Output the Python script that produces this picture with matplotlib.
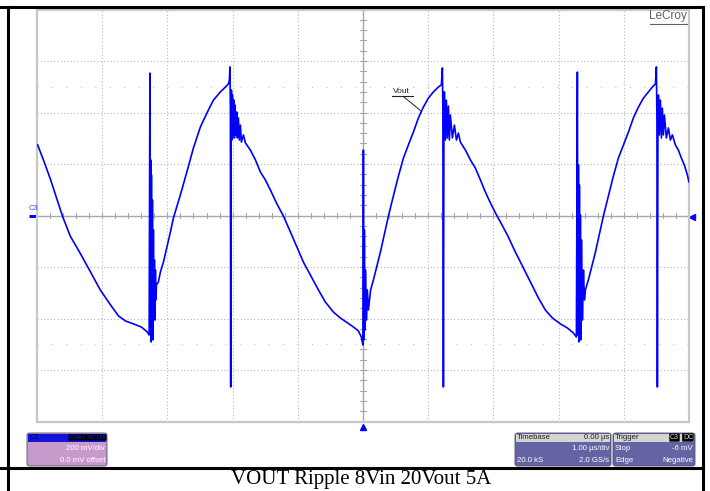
import matplotlib
matplotlib.use('Agg')
import numpy as np
import matplotlib.pyplot as plt
from matplotlib.patches import Rectangle, FancyBboxPatch
from matplotlib.lines import Line2D

# scope trace: time in us (1 us/div), voltage in mV (200 mV/div)
t_us = [
    -4.99, -4.89, -4.79, -4.70, -4.61, -4.49, -4.33, -4.18, -4.03, -3.87, -3.75, -3.64, -3.52, -3.40, -3.31, -3.28,
    # switching event near trough
    -3.268, -3.261, -3.256, -3.250, -3.245, -3.238, -3.230, -3.222, -3.215, -3.207, -3.199, -3.192, -3.184, -3.176, -3.169,
    -3.138, -3.107, -3.061, -3.000, -2.954, -2.908, -2.801, -2.693, -2.601, -2.494, -2.386, -2.294, -2.187, -2.110, -2.064,
    # switching event near peak
    -2.049, -2.041, -2.034, -2.029, -2.024, -2.018, -2.011, -2.003, -1.992, -1.983, -1.972, -1.962, -1.949, -1.937, -1.926,
    -1.911, -1.896, -1.880, -1.865, -1.834, -1.804,
    -1.727, -1.650, -1.574, -1.497, -1.420, -1.328, -1.221, -1.113, -1.021, -0.914, -0.807, -0.684, -0.577, -0.454, -0.347,
    -0.239, -0.147, -0.071, -0.025,
    -0.002, 0.006, 0.014, 0.021, 0.029, 0.037, 0.052, 0.067, 0.083, 0.117,
    0.160, 0.206, 0.267, 0.328, 0.390, 0.466, 0.543, 0.620, 0.696, 0.773, 0.850, 0.926, 1.003, 1.080, 1.156, 1.202,
    1.218, 1.225, 1.233, 1.241, 1.248, 1.264, 1.279, 1.294, 1.310, 1.325, 1.340, 1.371, 1.402, 1.433, 1.463, 1.494,
    1.571, 1.647, 1.724, 1.801, 1.877, 1.954, 2.031, 2.107, 2.215, 2.337, 2.445, 2.567, 2.690, 2.797, 2.905, 3.028,
    3.135, 3.227, 3.273,
    3.288, 3.296, 3.304, 3.311, 3.319, 3.327, 3.334, 3.342, 3.350, 3.365, 3.381, 3.396, 3.411,
    3.457, 3.503, 3.565, 3.626, 3.687, 3.764, 3.840, 3.917, 3.994, 4.071, 4.147, 4.224, 4.301, 4.377, 4.439, 4.485,
    4.500, 4.508, 4.515, 4.523, 4.531, 4.546, 4.561, 4.577, 4.592, 4.607, 4.623, 4.653, 4.684, 4.715, 4.745,
    4.791, 4.837, 4.883, 4.929, 4.975, 5.00,
]
v_mv = [
    274, 208, 138, 68, -2, -80, -150, -219, -289, -348, -390, -410, -421, -433, -452, -464,
    553, -445, 216, -491, 157, -445, 60, -483, -56, -386, -173, -406, -212, -328, -270,
    -258, -219, -181, -115, -64, -10, 80, 177, 262, 344, 402, 448, 480, 499, 511,
    526, 577, 410, -666, 332, 487, 293, 468, 313, 448, 301, 429, 313, 402, 301,
    379, 293, 351, 285, 313, 282,
    254, 216, 169, 138, 99, 49, -2, -64, -118, -181, -231, -289, -336, -375, -398,
    -417, -433, -448, -472,
    -503, 254, -483, -56, -445, -212, -406, -289, -367, -289,
    -250, -204, -142, -72, -2, 76, 153, 223, 274, 324, 379, 421, 456, 480, 499, 507,
    573, 410, -666, 332, 480, 293, 448, 301, 425, 293, 390, 301, 351, 293, 320, 285,
    254, 216, 184, 138, 91, 49, 10, -25, -76, -142, -196, -258, -320, -367, -398, -421,
    -437, -456, -472,
    557, -464, 196, -491, 118, -464, 2, -483, -95, -406, -212, -328, -289,
    -250, -204, -142, -72, -2, 76, 153, 223, 274, 324, 379, 421, 456, 480, 499, 511,
    577, 371, -666, 293, 468, 313, 448, 301, 417, 313, 390, 301, 340, 293, 313,
    274, 254, 223, 196, 157, 130,
]

trig_level_mv = -6
caption = 'VOUT Ripple 8Vin 20Vout 5A'

W, H = 710, 491
fig = plt.figure(figsize=(W / 100, H / 100), dpi=100)
fig.patch.set_facecolor('white')


def fx(x):
    return x / W


def fy(y):
    return 1 - y / H


ax = fig.add_axes([fx(37), fy(421.5), fx(689) - fx(37), fy(9.5) - fy(421.5)])
ax.set_xlim(-5, 5)
ax.set_ylim(-800, 800)
ax.set_xticks([])
ax.set_yticks([])
for s in ax.spines.values():
    s.set_color('#c8c8c8')
    s.set_linewidth(1.6)

# graticule
for k in range(-4, 5):
    if k == 0:
        ax.axvline(0, color='#a8a8a8', lw=1.0, zorder=1)
    else:
        ax.axvline(k, color='#b8b8b8', lw=0.8, ls=(0, (1, 2)), zorder=1)
for k in range(-3, 4):
    if k == 0:
        ax.axhline(0, color='#a8a8a8', lw=1.0, zorder=1)
    else:
        ax.axhline(k * 200, color='#b8b8b8', lw=0.8, ls=(0, (1, 2)), zorder=1)
for k in (-2.5, 2.5):
    ax.axhline(k * 200, color='#c0c0c0', lw=0.8, ls=(0, (1, 12)), zorder=1)
for x in np.arange(-4.8, 5, 0.2):
    ax.plot([x, x], [-10, 10], color='#a8a8a8', lw=0.8, zorder=1)
for y in np.arange(-760, 800, 40):
    ax.plot([-0.04, 0.04], [y, y], color='#a8a8a8', lw=0.8, zorder=1)

ax.plot(t_us, v_mv, color='#0000ff', lw=1.2, zorder=3)

# channel / trigger markers
ax.plot([-5.12, -5.0], [0, 0], color='#0000ff', lw=2.2, clip_on=False, solid_capstyle='butt')
ax.text(-5.06, 12, 'C3', color='#3050ff', fontsize=5.5, ha='center', va='bottom',
        family='Liberation Sans')
ax.plot([5.05], [trig_level_mv], marker='<', color='#0000ff', ms=5, clip_on=False)
ax.plot([0], [-820], marker='^', color='#0000ff', ms=5, clip_on=False)

# Vout label with leader
fig.text(fx(393), fy(95), 'Vout', fontsize=6, color='#202020', family='Liberation Sans',
         ha='left', va='bottom')
fig.add_artist(Line2D([fx(392), fx(413)], [fy(96), fy(96)], color='#202020', lw=0.8))
fig.add_artist(Line2D([fx(404), fx(421)], [fy(97), fy(111)], color='#202020', lw=0.7))

# LeCroy logo
fig.text(fx(687), fy(22), 'LeCroy', fontsize=8.5, color='#606060', family='Liberation Sans',
         ha='right', va='bottom')
fig.add_artist(Line2D([fx(650), fx(687)], [fy(23.5), fy(23.5)], color='#606060', lw=0.8))


# info boxes
def box(x0, y0, x1, y1, color, head_color, head_h=9):
    fig.add_artist(FancyBboxPatch((fx(x0), fy(y1)), fx(x1) - fx(x0), fy(y0) - fy(y1),
                                  boxstyle='round,pad=0,rounding_size=0.004',
                                  transform=fig.transFigure, fc=color, ec='#505070', lw=0.6))
    fig.add_artist(Rectangle((fx(x0 + 1), fy(y0 + head_h)), fx(x1 - 1) - fx(x0 + 1),
                             fy(y0 + 1) - fy(y0 + head_h),
                             transform=fig.transFigure, fc=head_color, ec='none'))


def tx(x, y, s, color='white', ha='left', bg=None, size=5.6):
    kw = dict(fontsize=size, color=color, family='Liberation Sans', ha=ha, va='center')
    if bg is not None:
        kw['bbox'] = dict(boxstyle='round,pad=0.1', fc=bg, ec='none')
    fig.text(fx(x), fy(y), s, **kw)


box(27, 433, 107, 466, '#c79acb', '#1414d8')
tx(30, 437.5, 'C3', color='#000050', size=5)
tx(106, 437.5, 'AC1M', color='#1414d8', bg='black', ha='right', size=4.6)
tx(87, 437.5, 'BwL', color='#1414d8', bg='black', ha='right', size=4.6)
tx(73, 437.5, 'F', color='#1414d8', bg='black', ha='right', size=4.6)
tx(105, 449, '200 mV/div', ha='right')
tx(105, 460, '0.0 mV offset', ha='right')

box(515, 433, 611, 466, '#6464a4', '#d4d4d4')
tx(517, 437.5, 'Timebase', color='#202020')
tx(609, 437.5, '0.00 \u00b5s', color='#202020', ha='right')
tx(609, 449, '1.00 \u00b5s/div', ha='right')
tx(517, 460, '20.0 kS')
tx(609, 460, '2.0 GS/s', ha='right')

box(613, 433, 695, 466, '#6464a4', '#d4d4d4')
tx(615, 437.5, 'Trigger', color='#202020')
tx(679, 437.5, 'C3', color='#d4d4d4', bg='black', ha='right', size=5)
tx(693, 437.5, 'DC', color='#d4d4d4', bg='black', ha='right', size=5)
tx(615, 449, 'Stop')
tx(693, 449, '-6 mV', ha='right')
tx(615, 460, 'Edge')
tx(693, 460, 'Negative', ha='right')

# table border around the screenshot
for seg in [([0, fx(703)], [fy(7), fy(7)]),
            ([0, fx(703)], [fy(467.5), fy(467.5)]),
            ([fx(7.5), fx(7.5)], [fy(7), 0]),
            ([fx(702.5), fx(702.5)], [fy(7), 0])]:
    fig.add_artist(Line2D(seg[0], seg[1], color='black', lw=2.2))

fig.text(fx(361), fy(479.5), caption, fontsize=15, family='Liberation Serif',
         ha='center', va='center', color='black')

fig.savefig('out.png', dpi=100)
